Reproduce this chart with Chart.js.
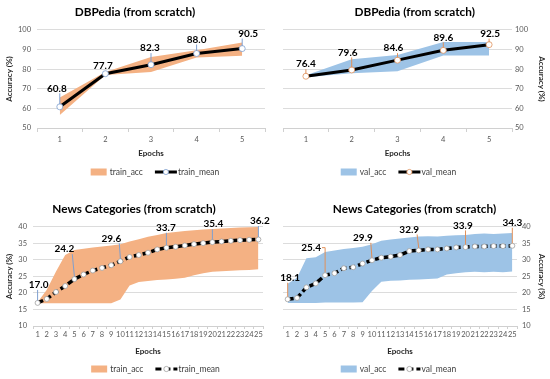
<!DOCTYPE html>
<html>
<head>
<meta charset="utf-8">
<script src="https://cdn.jsdelivr.net/npm/chart.js@4.4.1/dist/chart.umd.min.js"></script>
<style>
  html, body { margin: 0; padding: 0; background: #fff; }
  #wrap { position: relative; width: 550px; height: 379px; overflow: hidden; }
  canvas { position: absolute; }
</style>
</head>
<body>
<div id="wrap">
  <canvas id="c1" width="275" height="190" style="left:0;top:0"></canvas>
  <canvas id="c2" width="275" height="190" style="left:275px;top:0"></canvas>
  <canvas id="c3" width="275" height="189" style="left:0;top:190px"></canvas>
  <canvas id="c4" width="275" height="189" style="left:275px;top:190px"></canvas>
</div>
<script>
// ---- data ----
const dbpEpochs = ['1', '2', '3', '4', '5'];
const dbpTrainMean = [60.8, 77.7, 82.3, 88.0, 90.5];
const dbpTrainLow = [56.6, 77.0, 78.5, 86.0, 86.9];
const dbpTrainHigh = [65.6, 78.6, 86.2, 89.6, 93.6];
const dbpValMean = [76.4, 79.6, 84.6, 89.6, 92.5];
const dbpValLow = [75.9, 77.9, 79.0, 87.0, 87.0];
const dbpValHigh = [76.9, 85.0, 87.2, 93.8, 93.8];

const newsEpochs = ['1', '2', '3', '4', '5', '6', '7', '8', '9', '10', '11', '12', '13',
  '14', '15', '16', '17', '18', '19', '20', '21', '22', '23', '24', '25'];
const newsTrainMean = [17.0, 18.2, 20.3, 22.1, 24.2, 25.6, 26.8, 27.6, 28.4, 29.6, 30.9, 31.5, 32.2,
  33.2, 33.7, 34.0, 34.4, 34.8, 35.1, 35.4, 35.6, 35.8, 36.0, 36.1, 36.2];
const newsTrainLow = [16.9, 16.9, 16.9, 16.9, 16.9, 16.9, 16.9, 16.9, 16.9, 18.0, 22.3, 23.3, 23.6,
  23.9, 24.1, 24.3, 24.6, 25.4, 26.0, 26.4, 26.6, 26.7, 26.9, 27.0, 27.2];
const newsTrainHigh = [17.2, 21.0, 26.5, 31.5, 33.0, 33.4, 33.8, 34.1, 34.4, 34.8, 35.6, 36.3, 37.0,
  37.6, 38.2, 38.5, 38.8, 39.0, 39.2, 39.4, 39.5, 39.7, 39.8, 39.9, 40.0];
const newsValMean = [18.1, 18.5, 21.7, 22.9, 25.4, 26.0, 27.5, 27.8, 28.9, 29.9, 30.7, 31.0, 31.5,
  32.7, 32.9, 33.2, 33.2, 33.5, 33.8, 33.9, 34.1, 34.1, 34.2, 34.2, 34.3];
const newsValLow = [17.0, 17.0, 17.0, 17.0, 17.1, 17.1, 17.1, 17.1, 17.2, 20.6, 23.4, 23.7, 23.8,
  24.0, 24.1, 24.2, 24.4, 25.6, 26.0, 26.3, 26.4, 26.3, 26.4, 26.3, 26.5];
const newsValHigh = [22.8, 24.6, 30.5, 30.8, 32.4, 32.9, 33.3, 33.6, 34.0, 34.8, 35.8, 36.2, 36.5,
  36.8, 37.1, 37.2, 37.1, 37.3, 37.5, 37.6, 37.9, 38.0, 37.9, 38.0, 38.2];

const dbpLabelled = [0, 1, 2, 3, 4];
const newsLabelled = [0, 4, 9, 14, 19, 24];

const FAM = "Lato, 'Open Sans', sans-serif";
const ORANGE = '#f4b183';
const BLUE = '#9dc3e6';

function makeChart(id, c) {
  // data labels with leader lines, placed next to the mean points
  const labelPlugin = {
    id: 'meanLabels',
    afterDatasetsDraw(chart) {
      const ctx = chart.ctx;
      const meta = chart.getDatasetMeta(2);
      ctx.save();
      ctx.font = 'bold 10px ' + FAM;
      ctx.textAlign = 'center';
      ctx.textBaseline = 'middle';
      c.labelIdx.forEach((idx, k) => {
        const pt = meta.data[idx];
        const off = c.labelOff[k];
        const text = c.mean[idx].toFixed(1);
        const lx = pt.x + off[0], ly = pt.y + off[1];
        const w = ctx.measureText(text).width;
        ctx.strokeStyle = c.leader;
        ctx.lineWidth = 1;
        if (off[2] === 'elbow') {
          ctx.beginPath();
          ctx.moveTo(lx + w / 2 + 1, ly);
          ctx.lineTo(pt.x, ly);
          ctx.lineTo(pt.x, pt.y - 3);
          ctx.stroke();
        } else if (Math.abs(off[1]) > 10) {
          const sx = Math.max(lx - w / 2 + 2, Math.min(lx + w / 2 - 2, pt.x));
          ctx.beginPath();
          ctx.moveTo(sx, ly + 5);
          ctx.lineTo(pt.x, pt.y - 2.5);
          ctx.stroke();
        }
        ctx.fillStyle = '#000';
        ctx.fillText(text, lx, ly);
      });
      ctx.restore();
    }
  };

  // legend drawn by hand so that its swatches look like the original
  const legendPlugin = {
    id: 'handLegend',
    afterDraw(chart) {
      const ctx = chart.ctx;
      ctx.save();
      ctx.font = '8.5px ' + FAM;
      ctx.textBaseline = 'middle';
      const w1 = ctx.measureText(c.bandName).width;
      const w2 = ctx.measureText(c.meanName).width;
      const total = 16 + 3 + w1 + 12 + 22 + 1 + w2;
      let x = c.legend[0] - total / 2;
      const y = c.legend[1];
      ctx.fillStyle = c.band;
      ctx.fillRect(x, y - 3.5, 16, 7);
      x += 19;
      ctx.fillStyle = '#404040';
      ctx.fillText(c.bandName, x, y);
      x += w1 + 12;
      ctx.strokeStyle = '#000';
      ctx.lineWidth = 3;
      ctx.setLineDash(c.dash);
      ctx.beginPath();
      ctx.moveTo(x, y);
      ctx.lineTo(x + 22, y);
      ctx.stroke();
      ctx.setLineDash([]);
      ctx.fillStyle = '#fff';
      ctx.strokeStyle = c.pointBorder;
      ctx.lineWidth = 0.8;
      ctx.beginPath();
      ctx.arc(x + 11, y, 2.6, 0, Math.PI * 2);
      ctx.fill();
      ctx.stroke();
      x += 23;
      ctx.fillStyle = '#404040';
      ctx.fillText(c.meanName, x, y);
      ctx.restore();
    }
  };

  return new Chart(document.getElementById(id), {
    type: 'line',
    data: {
      labels: c.labels,
      datasets: [
        {
          label: 'low', data: c.low, fill: false, order: 1,
          borderWidth: 0, borderColor: 'rgba(0,0,0,0)', pointRadius: 0
        },
        {
          label: c.bandName, data: c.high, fill: '-1', backgroundColor: c.band, order: 1,
          borderWidth: 0, borderColor: 'rgba(0,0,0,0)', pointRadius: 0
        },
        {
          label: c.meanName, data: c.mean, fill: false, order: 0,
          borderColor: '#000', borderWidth: c.lineWidth, borderDash: c.dash,
          pointRadius: c.pointRadius, pointBackgroundColor: '#fff',
          pointBorderColor: c.pointBorder, pointBorderWidth: 0.8
        }
      ]
    },
    options: {
      responsive: false,
      animation: false,
      devicePixelRatio: 1,
      layout: { padding: c.pad },
      plugins: {
        legend: { display: false },
        tooltip: { enabled: false },
        title: {
          display: true, text: c.title, color: '#000',
          font: { family: FAM, size: 11.8, weight: 'bold' },
          padding: c.titlePad
        }
      },
      scales: {
        x: {
          offset: true,
          grid: { offset: true, drawOnChartArea: false, tickLength: c.tickLen, color: '#d0d0d0' },
          border: { color: '#d0d0d0' },
          ticks: {
            autoSkip: false, maxRotation: 0, padding: c.xPad, color: '#595959',
            font: { family: FAM, size: c.xFont }
          },
          title: {
            display: true, text: 'Epochs', color: '#262626', padding: 0,
            font: { family: FAM, size: 8, weight: 'bold' }
          },
          afterFit(s) { s.height = c.xHeight; }
        },
        y: {
          position: c.ySide,
          min: c.yMin, max: c.yMax,
          grid: { color: '#dcdcdc', drawTicks: false },
          border: { display: false },
          ticks: {
            stepSize: c.yStep, padding: c.yPad, color: '#595959',
            font: { family: FAM, size: 7.5 }
          },
          title: {
            display: true, text: 'Accuracy (%)', color: '#262626', padding: 0,
            font: { family: FAM, size: 8, weight: 'bold' }
          },
          afterFit(s) { s.width = c.yWidth; }
        }
      }
    },
    plugins: [labelPlugin, legendPlugin]
  });
}

makeChart('c1', {
  title: 'DBPedia (from scratch)', labels: dbpEpochs,
  low: dbpTrainLow, high: dbpTrainHigh, mean: dbpTrainMean,
  bandName: 'train_acc', meanName: 'train_mean', band: ORANGE,
  leader: '#7f9fcf', pointBorder: '#7f9fcf',
  lineWidth: 3, dash: [], pointRadius: 3,
  labelIdx: dbpLabelled,
  labelOff: [[-3, -18.5], [-2.5, -8], [-1, -16.5], [0, -14], [6, -15]],
  ySide: 'left', yMin: 50, yMax: 100, yStep: 10, yPad: 6, yWidth: 32,
  pad: { left: 5, right: 10, top: 0, bottom: 32 },
  titlePad: { top: 5.5, bottom: 10.3 },
  xHeight: 30, xPad: 3.5, xFont: 7.5, tickLen: 4,
  legend: [155, 172]
});

makeChart('c2', {
  title: 'DBPedia (from scratch)', labels: dbpEpochs,
  low: dbpValLow, high: dbpValHigh, mean: dbpValMean,
  bandName: 'val_acc', meanName: 'val_mean', band: BLUE,
  leader: '#e0905a', pointBorder: '#e0905a',
  lineWidth: 3, dash: [], pointRadius: 3,
  labelIdx: dbpLabelled,
  labelOff: [[0, -12], [-4, -17.5], [-4, -12], [0, -13], [1, -11]],
  ySide: 'right', yMin: 50, yMax: 100, yStep: 10, yPad: 3, yWidth: 34.5,
  pad: { left: 8, right: 3.5, top: 0, bottom: 32 },
  titlePad: { top: 5.5, bottom: 10.3 },
  xHeight: 30, xPad: 3.5, xFont: 7.5, tickLen: 4,
  legend: [123.5, 172]
});

makeChart('c3', {
  title: 'News Categories (from scratch)', labels: newsEpochs,
  low: newsTrainLow, high: newsTrainHigh, mean: newsTrainMean,
  bandName: 'train_acc', meanName: 'train_mean', band: ORANGE,
  leader: '#7f9fcf', pointBorder: '#a0a0a0',
  lineWidth: 3.5, dash: [6, 3], pointRadius: 2.5,
  labelIdx: newsLabelled,
  labelOff: [[1, -18], [-10, -30], [-9, -23], [-0.5, -20], [1, -18], [1.5, -18.5]],
  ySide: 'left', yMin: 10, yMax: 40, yStep: 5, yPad: 6, yWidth: 28,
  pad: { left: 5, right: 12, top: 0, bottom: 23 },
  titlePad: { top: 12, bottom: 10.8 },
  xHeight: 30, xPad: 1.5, xFont: 7.5, tickLen: 3,
  legend: [155.5, 179]
});

makeChart('c4', {
  title: 'News Categories (from scratch)', labels: newsEpochs,
  low: newsValLow, high: newsValHigh, mean: newsValMean,
  bandName: 'val_acc', meanName: 'val_mean', band: BLUE,
  leader: '#e0905a', pointBorder: '#a0a0a0',
  lineWidth: 3.5, dash: [6, 3], pointRadius: 2.5,
  labelIdx: newsLabelled,
  labelOff: [[2.5, -21.5], [-14, -27.5, 'elbow'], [-9, -22.5], [-9.5, -21], [-2.7, -21.7], [0, -23]],
  ySide: 'right', yMin: 10, yMax: 40, yStep: 5, yPad: 5, yWidth: 29,
  pad: { left: 8, right: 4, top: 0, bottom: 23 },
  titlePad: { top: 12, bottom: 10.8 },
  xHeight: 30, xPad: 1.5, xFont: 7.5, tickLen: 3,
  legend: [123.5, 179]
});
</script>
</body>
</html>
